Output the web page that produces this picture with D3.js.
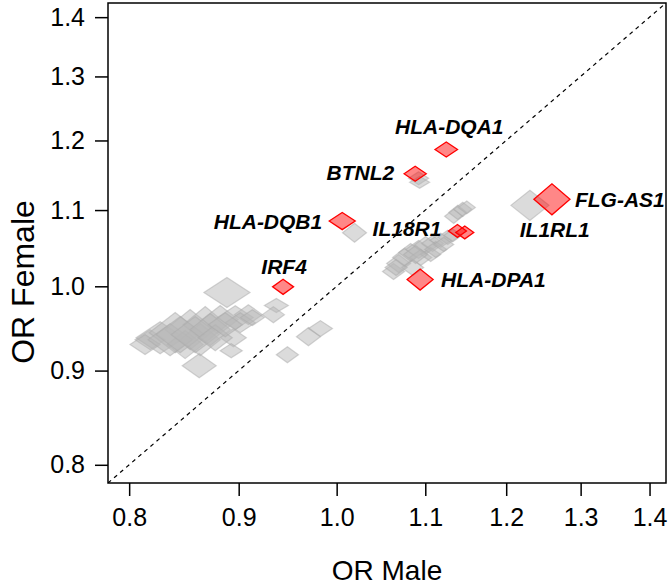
<!DOCTYPE html>
<html>
<head>
<meta charset="utf-8">
<script src="https://cdn.jsdelivr.net/npm/d3@7/dist/d3.min.js"></script>
<style>
  html, body { margin: 0; padding: 0; background: #fff; }
  svg { display: block; }
</style>
</head>
<body>
<svg id="chart" width="670" height="587"></svg>
<script>
// ---------------- DATA ----------------
const xTicks = [0.8, 0.9, 1.0, 1.1, 1.2, 1.3, 1.4];
const yTicks = [0.8, 0.9, 1.0, 1.1, 1.2, 1.3, 1.4];
const axisDomain = [0.782, 1.425];
const xTitle = "OR Male";
const yTitle = "OR Female";

// Highlighted loci: OR male, OR female, half-interval on log scale (male, female)
const geneNames = ["HLA-DQA1", "BTNL2", "FLG-AS1", "IL18R1", "IL1RL1", "HLA-DPA1", "HLA-DQB1", "IRF4"];
const geneOrMale   = [1.1251, 1.0881, 1.2605, 1.1387, 1.1477, 1.0939, 1.0060, 0.9440];
const geneOrFemale = [1.1865, 1.1511, 1.1149, 1.0717, 1.0697, 1.0085, 1.0850, 0.9993];
const geneCiMale   = [0.0121, 0.0119, 0.0194, 0.0097, 0.0097, 0.0140, 0.0140, 0.0113];
const geneCiFemale = [0.0093, 0.0094, 0.0194, 0.0081, 0.0081, 0.0132, 0.0107, 0.0094];

// Other loci (grey)
const otherOrMale = [
  1.2310, 1.0921, 1.0933, 1.1341, 1.1391, 1.1452, 1.1502,
  1.0631, 1.0689, 1.0758, 1.0828, 1.0921, 1.1004, 1.1087, 1.1184, 1.1269, 1.1329, 1.0946, 1.0851, 1.1064,
  1.0660, 1.0886, 1.1124, 1.1220,
  1.0194, 0.8887, 0.9372, 0.9342,
  0.8182, 0.8271, 0.8406, 0.8542, 0.8682, 0.8496, 0.8635, 0.8823, 0.8967, 0.9094, 0.9015, 0.8948, 0.8928, 0.8626,
  0.8138, 0.8360, 0.8451, 0.8589, 0.8729, 0.8776, 0.8871, 0.9133,
  0.9484, 0.9701, 0.9827
];
const otherOrFemale = [
  1.1065, 1.1446, 1.1388, 1.0914, 1.0968, 1.1010, 1.1037,
  1.0187, 1.0289, 1.0368, 1.0432, 1.0472, 1.0524, 1.0551, 1.0591, 1.0631, 1.0657, 1.0368, 1.0238, 1.0406,
  1.0238, 1.0406, 1.0472, 1.0538,
  1.0693, 0.9922, 0.9762, 0.9652,
  0.9355, 0.9378, 0.9437, 0.9473, 0.9532, 0.9297, 0.9355, 0.9593, 0.9616, 0.9652, 0.9556, 0.9378, 0.9227, 0.9055,
  0.9297, 0.9355, 0.9414, 0.9414, 0.9473, 0.9378, 0.9532, 0.9616,
  0.9180, 0.9390, 0.9485
];
const otherCiMale = [
  0.0205, 0.0108, 0.0108, 0.0097, 0.0097, 0.0097, 0.0092,
  0.0119, 0.0129, 0.0129, 0.0129, 0.0140, 0.0129, 0.0119, 0.0119, 0.0108, 0.0097, 0.0119, 0.0119, 0.0108,
  0.0119, 0.0129, 0.0119, 0.0108,
  0.0129, 0.0248, 0.0129, 0.0119,
  0.0162, 0.0259, 0.0280, 0.0269, 0.0237, 0.0194, 0.0216, 0.0194, 0.0194, 0.0151, 0.0162, 0.0140, 0.0119, 0.0183,
  0.0162, 0.0237, 0.0259, 0.0259, 0.0216, 0.0183, 0.0183, 0.0129,
  0.0119, 0.0129, 0.0129
];
const otherCiFemale = [
  0.0188, 0.0081, 0.0075, 0.0088, 0.0088, 0.0088, 0.0081,
  0.0100, 0.0113, 0.0113, 0.0113, 0.0113, 0.0113, 0.0100, 0.0088, 0.0088, 0.0081, 0.0100, 0.0100, 0.0088,
  0.0100, 0.0113, 0.0100, 0.0088,
  0.0119, 0.0188, 0.0088, 0.0100,
  0.0125, 0.0200, 0.0251, 0.0251, 0.0226, 0.0175, 0.0200, 0.0175, 0.0150, 0.0125, 0.0125, 0.0113, 0.0088, 0.0150,
  0.0125, 0.0200, 0.0226, 0.0226, 0.0200, 0.0162, 0.0150, 0.0100,
  0.0100, 0.0113, 0.0100
];

// ---------------- LAYOUT / STYLE ----------------
const W = 670, H = 587;
const plot = { left: 108, right: 666, top: 3, bottom: 483 };
const labelLayout = {
  "HLA-DQA1": { dx: 3,   dy: -23, anchor: "middle" },
  "BTNL2":    { dx: -21, dy: -1,  anchor: "end" },
  "FLG-AS1":  { dx: 23,  dy: 0,   anchor: "start" },
  "IL18R1":   { dx: -16, dy: -2,  anchor: "end" },
  "IL1RL1":   { dx: 55,  dy: -3,  anchor: "start" },
  "HLA-DPA1": { dx: 21,  dy: 0,   anchor: "start" },
  "HLA-DQB1": { dx: -20, dy: 0,   anchor: "end" },
  "IRF4":     { dx: 1,   dy: -20, anchor: "middle" }
};

const svg = d3.select("#chart");
const x = d3.scaleLog().domain(axisDomain).range([plot.left, plot.right]);
const y = d3.scaleLog().domain(axisDomain).range([plot.bottom, plot.top]);

const genes = geneNames.map((g, i) => ({ name: g, m: geneOrMale[i], f: geneOrFemale[i], cm: geneCiMale[i], cf: geneCiFemale[i] }));
const others = otherOrMale.map((v, i) => ({ m: v, f: otherOrFemale[i], cm: otherCiMale[i], cf: otherCiFemale[i] }));

function diamond(d) {
  const cx = x(d.m), cy = y(d.f);
  const l = x(d.m * Math.exp(-d.cm)), r = x(d.m * Math.exp(d.cm));
  const t = y(d.f * Math.exp(d.cf)), b = y(d.f * Math.exp(-d.cf));
  return `M${l},${cy}L${cx},${t}L${r},${cy}L${cx},${b}Z`;
}

const font = "'Liberation Sans', Arial, Helvetica, sans-serif";

svg.append("defs").append("clipPath").attr("id", "clip")
  .append("rect").attr("x", plot.left).attr("y", plot.top)
  .attr("width", plot.right - plot.left).attr("height", plot.bottom - plot.top);

const g = svg.append("g").attr("clip-path", "url(#clip)");

// diagonal y = x
g.append("line")
  .attr("x1", x(axisDomain[0])).attr("y1", y(axisDomain[0]))
  .attr("x2", x(axisDomain[1])).attr("y2", y(axisDomain[1]))
  .attr("stroke", "#000").attr("stroke-width", 1.2).attr("stroke-dasharray", "4,4");

// grey points
g.selectAll("path.other").data(others).join("path")
  .attr("class", "other")
  .attr("d", diamond)
  .attr("fill", "rgb(184,184,184)").attr("fill-opacity", 0.5)
  .attr("stroke", "rgb(170,170,170)").attr("stroke-opacity", 0.5).attr("stroke-width", 1.2);

// red points
g.selectAll("path.gene").data(genes).join("path")
  .attr("class", "gene")
  .attr("d", diamond)
  .attr("fill", "rgb(255,0,0)").attr("fill-opacity", 0.47)
  .attr("stroke", "rgb(255,0,0)").attr("stroke-width", 1.3);

// labels
svg.selectAll("text.gl").data(genes).join("text")
  .attr("class", "gl")
  .attr("x", d => x(d.m) + labelLayout[d.name].dx)
  .attr("y", d => y(d.f) + labelLayout[d.name].dy)
  .attr("text-anchor", d => labelLayout[d.name].anchor)
  .attr("dominant-baseline", "central")
  .attr("font-family", font).attr("font-size", 21)
  .attr("font-weight", "bold").attr("font-style", "italic")
  .attr("fill", "#000")
  .text(d => d.name);

// frame
svg.append("rect")
  .attr("x", plot.left).attr("y", plot.top)
  .attr("width", plot.right - plot.left).attr("height", plot.bottom - plot.top)
  .attr("fill", "none").attr("stroke", "#000").attr("stroke-width", 1.5);

// axes
const xAxis = svg.append("g").attr("transform", `translate(0,${plot.bottom})`)
  .call(d3.axisBottom(x).tickValues(xTicks).tickFormat(d3.format(".1f")).tickSize(13).tickPadding(12));
const yAxis = svg.append("g").attr("transform", `translate(${plot.left},0)`)
  .call(d3.axisLeft(y).tickValues(yTicks).tickFormat(d3.format(".1f")).tickSize(13).tickPadding(10));
[xAxis, yAxis].forEach(a => {
  a.select(".domain").remove();
  a.selectAll(".tick line").attr("stroke", "#000").attr("stroke-width", 1.5);
  a.selectAll(".tick text").attr("font-family", font).attr("font-size", 25).attr("fill", "#000");
});

// titles
svg.append("text").attr("x", (plot.left + plot.right) / 2).attr("y", 570)
  .attr("text-anchor", "middle").attr("dominant-baseline", "central")
  .attr("font-family", font).attr("font-size", 28).attr("fill", "#000").text(xTitle);
svg.append("text").attr("transform", `translate(23,282) rotate(-90)`)
  .attr("text-anchor", "middle").attr("dominant-baseline", "central")
  .attr("font-family", font).attr("font-size", 32).attr("fill", "#000").text(yTitle);
</script>
</body>
</html>
